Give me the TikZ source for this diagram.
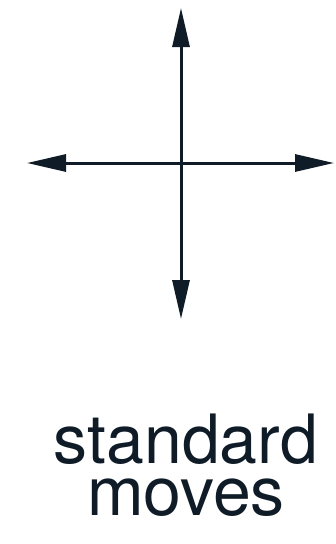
\documentclass[tikz,border=0pt]{standalone}
\usepackage{fontspec}
\setmainfont{TeX Gyre Heros}
\usetikzlibrary{arrows.meta}
\definecolor{ink}{HTML}{0F1C27}
\tikzset{
  mv/.style={draw=ink, line width=3pt, -{Triangle[length=39pt,width=17pt]}},
  lbl/.style={text=ink, font=\fontsize{68}{52}\selectfont, align=center, inner sep=0pt}
}
\begin{document}
\begin{tikzpicture}[x=1pt,y=-1pt]
\useasboundingbox (0,0) rectangle (335,544);
\coordinate (c) at (181,163);
\coordinate (up) at (181,8);
\coordinate (down) at (181,319);
\coordinate (left) at (27,163);
\coordinate (right) at (334,163);
\draw[mv] (c) -- (up);
\draw[mv] (c) -- (down);
\draw[mv] (c) -- (left);
\draw[mv] (c) -- (right);
\node[lbl, anchor=base] (t) at (186,515) {standard\\moves};
\end{tikzpicture}
\end{document}
